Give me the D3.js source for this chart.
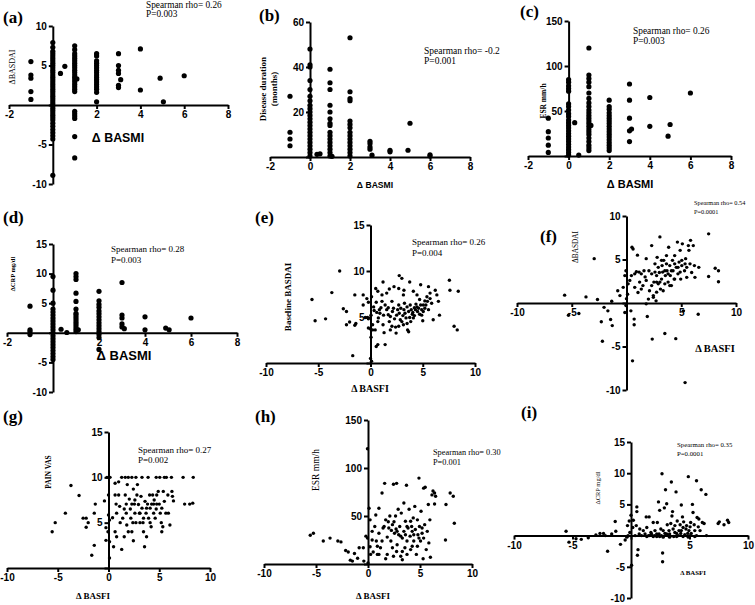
<!DOCTYPE html>
<html><head><meta charset="utf-8">
<script src="https://cdn.jsdelivr.net/npm/d3@7"></script>
<style>body{margin:0;background:#fff} svg{display:block}</style>
</head><body><svg id="c" width="755" height="605"></svg>
<script>
// ---------------- DATA ----------------
const basmiTicks = [-2, 0, 2, 4, 6, 8];
const basfiTicks = [-10, -5, 0, 5, 10];
const deltaBasdaiTicks = [-10, -5, 0, 5, 10];
const durationTicks = [0, 20, 40, 60];
const esrTicks = [0, 50, 100, 150];
const deltaCrpTicks = [-10, -5, 0, 5, 10, 15];
const scoreTicks = [0, 5, 10, 15];

// (a) ΔBASMI vs ΔBASDAI : [ΔBASMI, [ΔBASDAI values]]
const colsA = [
  [-1, [5.5, 3.8, 3.4, 1.7, 0.7]],
  [0, [7.9, 7.3, 6.8, 6.5, 6.2, 5.9, 5.6, 5.3, 5.0, 4.7, 4.4, 4.1, 3.8, 3.5, 3.2, 2.9, 2.6, 2.3, 2.0, 1.7, 1.4, 1.1, 0.8, 0.5, 0.2, -0.1, -0.4, -0.7, -1.0, -1.3, -1.6, -1.9, -2.3, -2.7, -3.1, -3.5, -3.9, -4.3, -8.9]],
  [0.35, [4.0]], [0.55, [4.9]],
  [1, [7.5, 7.0, 6.5, 6.2, 5.9, 5.6, 5.3, 5.0, 4.7, 4.4, 4.1, 3.8, 3.5, 3.2, 2.9, 2.6, 2.3, 2.0, 1.7, -0.8, -1.1, -1.4, -1.7, -4.0, -6.7]],
  [1.1, [3.3]],
  [2, [6.5, 6.2, 5.6, 5.3, 5.0, 4.7, 4.4, 4.1, 3.8, 3.5, 3.2, 2.9, 2.6, 2.3, 2.0, 1.6, 0.4]],
  [3, [6.5, 5.0, 4.4, 4.0, 2.5, 2.2]], [3.1, [3.2]],
  [4, [7.1, 1.9]], [4.9, [3.4]], [5.05, [0.4]], [6, [3.7]]
];
// (b) ΔBASMI vs disease duration (months)
const colsB = [
  [-1, [27, 11, 8, 5]],
  [0, [48, 41, 40, 34, 30, 27, 25, 23, 21.5, 20, 18.5, 17, 15.5, 14, 12.5, 11, 9.5, 8, 6.5, 5, 3.5, 2, 0.5]],
  [0.35, [1.2]], [0.5, [1.4]],
  [1, [39, 33, 30, 23, 20, 17, 15, 14, 11, 9.5, 8, 6.5, 5, 3.5, 2, 0.5]], [1.1, [0.3]],
  [2, [53, 29, 26, 25, 16, 14.5, 13, 11, 9.5, 8, 6.5, 5, 3.5, 2, 0.5]],
  [3, [7, 6, 4.5, 3.5]], [3.1, [0.8]],
  [4, [3, 2.3]], [4.9, [3]], [5, [15]], [6, [1, 0.4]]
];
// (c) ΔBASMI vs ESR mm/h
const colsC = [
  [-1, [42, 27, 20, 12, 4]],
  [0, [85, 82, 78, 75, 72, 58, 55, 51, 47, 44, 40, 37, 34, 31, 28, 25, 22, 19, 16, 13, 10, 7, 4, 1]],
  [0.3, [37]], [0.5, [1]],
  [1, [120, 90, 86, 82, 77, 70, 64, 59, 55, 51, 48, 45, 42, 39, 36, 33, 30, 27, 24, 20, 16, 12, 9, 6]], [1.1, [34]],
  [2, [62, 55, 52, 48, 45, 42, 39, 36, 33, 30, 27, 24, 21, 18, 15, 12, 9, 6]],
  [3, [80, 62, 42, 28, 16]], [3.1, [30]],
  [4, [65, 33]], [4.9, [22]], [5, [35]], [6, [70]]
];
// (d) ΔBASMI vs ΔCRP mg/dl
const colsD = [
  [-1, [4.5, 0.5, 0.2, -0.3]],
  [0, [9.5, 7.2, 5.0, 4.0, 3.5, 3.0, 2.5, 2.0, 1.5, 1.0, 0.5, 0, -0.5, -1.0, -1.5, -2.0, -2.5, -3.0, -3.5, -4.0, -4.5]],
  [0.35, [0.6]], [0.6, [0.05]],
  [1, [10, 9.5, 9.0, 6.7, 5.3, 4.0, 3.3, 3.0, 2.6, 2.2, 1.8, 1.4, 1.0, 0.6, 0.2]], [1.1, [0.5]],
  [2, [7.0, 5.4, 4.8, 4.3, 3.7, 3.2, 2.7, 2.2, 1.7, 1.2, 0.7, 0.2, -0.3, -0.8, -2.8]],
  [3, [8.5, 3.0, 2.5, 1.5, 1.0]], [3.1, [0.7]],
  [4, [2.7, 0.5]], [4.9, [0.8]], [5.05, [0.5]], [6, [2.5]]
];
// (e) ΔBASFI vs baseline BASDAI
const ptsE = [[-2.95,10],[-3.7,7.65],[-5.6,6.9],[-5.3,4.6],[-4.3,4.8],[-2.6,5.9],[-2.3,5.6],[-2.0,4.45],[-2.3,4.15],[-1.5,7.4],[-1.4,4.3],[-1.5,4.1],[-1.7,0.8],[-0.7,7.4],[-0.35,7.0],[-0.2,6.6],[-0.7,6.3],[-0.3,4.95],[-0.2,3.8],[0,3.7],[0.2,3.6],[0.05,2.8],[0,0.5],[0.1,0.2],[0.05,5.2],[0.1,7.2],[0.3,6.1],[0.35,5.7],[0.5,8.1],[0.55,6.6],[0.6,5.5],[0.7,4.5],[0.55,1.8],[0.7,2.0],[0.45,3.6],[1.2,8.8],[1.1,7.4],[1.0,6.0],[1.25,5.2],[1.2,4.15],[1.3,3.3],[1.4,2.0],[1.55,7.6],[1.7,6.0],[1.8,4.5],[1.9,3.6],[2.05,6.7],[2.1,5.6],[2.25,8.3],[2.3,4.8],[2.4,3.9],[2.45,3.25],[2.6,5.8],[2.7,6.3],[2.75,5.4],[2.85,4.7],[2.75,9.5],[3.0,9.2],[3.15,7.4],[3.25,6.5],[3.3,5.4],[3.4,4.9],[3.5,4.3],[3.55,3.6],[3.65,3.4],[3.75,8.8],[3.8,6.3],[3.9,5.8],[4.0,5.3],[4.1,4.9],[4.2,6.0],[4.35,6.4],[4.45,7.4],[4.5,5.6],[4.7,6.9],[4.8,8.5],[4.9,5.2],[5.0,4.6],[5.05,6.3],[5.2,6.75],[5.4,7.2],[5.55,8.3],[5.7,7.6],[5.85,6.5],[6.0,4.7],[6.2,7.9],[6.35,7.4],[6.5,6.7],[6.6,5.2],[7.55,9.0],[7.6,7.9],[8.0,4.0],[8.3,3.6],[8.4,7.8],[0.9,5.4],[1.1,6.7],[1.4,6.3],[1.55,5.8],[1.9,5.05],[2.2,5.95],[2.5,5.2],[2.9,5.95],[3.1,5.15],[3.2,5.8],[3.5,6.1],[3.65,5.6],[3.75,4.95],[3.85,4.5],[4.05,5.5],[4.2,5.15],[4.3,5.8],[4.45,6.1],[4.6,5.95],[4.7,5.3],[4.8,6.3],[4.9,5.8],[5.05,5.6],[5.2,5.95],[5.3,6.3],[5.45,6.7],[5.55,5.8],[5.7,7.0],[3.0,4.5],[3.15,4.15],[2.7,4.0],[2.05,4.0],[1.7,5.25],[0.75,4.9],[0.85,5.8],[0.2,4.15],[2.7,8.1],[3.2,7.9],[4.1,7.8],[1.8,8.05],[0.7,7.8],[-0.2,4.8],[-0.5,4.95]];
// (f) ΔBASFI vs ΔBASDAI
const ptsF = [[-5.65,0.9],[-5.3,-1.4],[-4.35,-1.2],[-3.7,0.7],[-2.95,5.1],[-2.65,0.4],[-2.3,-2.15],[-2.2,-4.4],[-2.05,-0.5],[-1.7,-0.9],[-1.45,-1.9],[-1.3,-2.6],[-1.35,0.2],[-0.8,1.4],[-0.6,0.85],[-0.3,1.8],[-0.15,-1.1],[-0.05,-0.3],[0,0.5],[0.1,1.0],[-0.15,3.15],[-0.05,3.7],[0.15,2.2],[0.3,2.6],[0.45,3.15],[0.5,6.4],[0.6,6.2],[0.4,-0.9],[0.55,-6.65],[0.7,-1.85],[0.7,-2.5],[0.75,1.8],[0.9,3.6],[1.0,5.5],[1.05,1.2],[1.2,2.4],[1.35,3.35],[1.5,2.0],[1.7,3.0],[1.8,5.1],[1.9,-1.55],[2.0,0.45],[2.05,3.7],[2.1,1.4],[2.3,6.6],[2.35,-4.15],[2.45,0.65],[2.5,2.4],[2.6,4.5],[2.7,0.25],[2.75,3.15],[2.8,5.25],[2.9,2.2],[3.0,3.5],[3.05,7.6],[3.1,1.6],[3.2,2.75],[3.25,4.3],[3.35,1.4],[3.4,4.9],[3.5,-3.5],[3.55,3.15],[3.65,5.45],[3.7,3.7],[3.8,2.4],[3.85,6.4],[3.95,4.3],[4.0,3.15],[4.1,2.0],[4.2,4.9],[4.25,3.7],[4.35,2.75],[4.4,5.45],[4.5,-4.1],[4.55,4.1],[4.65,7.0],[4.7,3.35],[4.8,4.7],[4.9,6.05],[4.95,2.75],[5.05,4.3],[5.1,6.8],[5.2,-0.9],[5.3,3.7],[5.35,-9.15],[5.4,5.1],[5.5,2.95],[5.65,6.6],[5.7,6.05],[5.8,4.5],[5.85,7.2],[5.95,3.5],[6.1,6.6],[6.2,4.3],[6.25,2.95],[6.55,-1.3],[6.6,4.1],[7.5,7.95],[7.5,3.05],[8.1,4.0],[8.4,3.7],[8.4,2.45],[2.6,3.55],[2.9,4.1],[3.3,3.55],[3.5,3.7],[3.8,3.35],[4.1,3.7],[4.4,4.5],[4.7,4.1],[5.05,4.9],[5.35,4.5],[5.5,4.1],[4.9,3.55],[3.65,4.5],[3.2,4.9],[2.75,2.4],[2.3,2.0],[1.8,2.6],[1.35,1.6],[1.6,3.7],[1.15,3.55],[0.75,3.35],[2.3,3.35],[4.4,2.75],[3.95,2.0],[3.5,2.2],[3.05,2.4],[2.75,1.25],[2.45,0.85],[1.8,-0.1]];
// (g) ΔBASFI vs pain VAS
const ptsG = [[-0.15,10],[0.15,10],[1.3,10],[1.65,10],[1.95,10],[2.3,10],[2.7,10],[3.3,10],[3.9,10],[4.7,10],[5.05,10],[5.5,10],[5.7,10],[6.2,10],[7.35,10],[8.35,10],[-3.7,9.1],[-2.9,8.0],[-4.25,6.05],[-5.25,5.0],[-5.55,4.0],[-2.5,5.5],[-2.2,5.5],[-2.2,4.5],[-2.0,5.0],[-1.65,1.4],[-1.3,7.05],[-1.4,6.05],[-1.4,2.5],[-0.4,7.4],[-0.25,4.45],[-0.25,3.05],[-0.05,4.0],[0,8.05],[0,5.85],[0.1,5.3],[0.1,2.9],[0.1,1.1],[0.4,5.55],[0.5,2.35],[0.65,9.35],[0.65,8.05],[0.75,7.05],[0.8,6.05],[0.65,4.0],[0.8,3.45],[1.0,9.5],[1.1,6.8],[1.15,5.0],[1.3,2.05],[1.55,3.45],[1.65,8.05],[1.75,7.05],[1.75,6.05],[1.85,9.2],[1.95,4.0],[2.05,7.6],[2.15,6.5],[2.2,5.5],[2.3,4.0],[2.45,8.7],[2.45,3.0],[2.55,7.05],[2.6,6.05],[2.7,5.0],[2.8,8.05],[2.85,9.2],[2.95,7.0],[3.05,6.05],[3.1,5.0],[3.2,7.9],[3.3,6.6],[3.4,5.0],[3.45,4.0],[3.55,2.35],[3.6,7.35],[3.7,6.05],[3.75,3.45],[3.85,7.05],[3.95,5.5],[4.05,8.05],[4.1,6.6],[4.2,4.55],[4.25,7.05],[4.35,8.05],[4.45,6.05],[4.5,7.5],[4.6,5.5],[4.7,6.5],[4.75,8.05],[4.9,8.45],[5.0,7.05],[5.1,6.05],[5.2,5.0],[5.25,4.0],[5.35,4.55],[5.4,8.45],[5.5,7.35],[5.65,6.05],[5.85,8.05],[5.9,6.05],[6.05,4.75],[6.25,8.45],[6.3,7.9],[6.4,7.4],[7.5,7.05],[8.0,7.05],[8.3,7.15],[2.3,7.05],[2.6,7.5],[3.1,6.05],[3.45,5.5],[3.75,6.6],[4.1,5.0],[4.75,7.05],[4.45,7.05],[5.25,6.6],[1.4,5.5],[1.8,4.75],[1.55,6.5],[1.0,8.05],[2.4,5.0]];
// (h) ΔBASFI vs ESR mm/h
const ptsH = [[-0.05,120],[-5.55,30],[-5.25,32],[-4.3,24],[-3.65,27],[-2.9,24],[-2.6,23],[-2.15,14],[-1.9,12.5],[-1.7,4],[-1.5,3],[-1.3,11],[-1.0,6],[-0.85,17],[-0.45,17],[-0.2,29],[-0.4,3],[-0.05,27],[0,1],[0.1,58],[0.2,46],[0.2,18],[0.25,10],[0.4,34],[0.5,12.5],[0.65,39],[0.75,51],[0.8,24],[0.9,10],[1.05,58],[1.05,32],[1.05,10],[1.2,17],[1.35,74],[1.45,37.5],[1.6,84],[1.7,46],[1.7,5.5],[1.85,28],[1.95,44],[2.1,50],[2.2,24],[2.25,35],[2.45,83],[2.45,8],[2.5,44],[2.55,32],[2.65,50],[2.7,36.5],[2.75,84],[2.8,20],[2.9,57],[2.95,30.5],[3.05,39],[3.15,8],[3.2,53],[3.3,27],[3.3,4.5],[3.45,63.5],[3.45,34],[3.55,17],[3.6,44.5],[3.7,82],[3.75,24],[3.85,37.5],[3.95,57],[4.05,29],[4.1,15],[4.2,39],[4.25,34],[4.35,48],[4.4,24],[4.5,60],[4.55,36],[4.65,10],[4.75,46],[4.8,30.5],[4.9,89.5],[4.95,39],[5.05,24],[5.1,55],[5.2,32],[5.3,5.5],[5.35,79],[5.45,41],[5.5,80],[5.6,15],[5.7,34],[5.8,62],[5.85,22],[5.95,46],[6.0,7],[6.15,72],[6.25,76],[6.4,62.5],[6.5,70.5],[6.4,74],[7.45,25],[7.5,62],[7.9,74],[8.2,70.5],[8.3,42.5],[1.55,39],[2.0,37.5],[2.35,41],[2.8,34],[3.15,29],[3.6,30.5],[3.75,39],[4.1,44.5],[4.4,30.5],[4.9,27],[5.2,37.5],[5.35,27],[4.75,18.5],[4.25,18.5],[3.75,10],[3.3,13],[2.75,13],[2.35,17],[1.85,10],[1.35,24],[0.9,18.5],[0.4,25]];
// (i) ΔBASFI vs ΔCRP mg/dl
const ptsI = [[-5.55,0.7],[-5.3,-1.05],[-4.7,-0.5],[-4.25,-0.6],[-3.65,-0.35],[-3.0,0.1],[-2.65,0.35],[-2.35,0.35],[-2.2,0],[-2.0,-2.5],[-1.65,0.25],[-1.35,2.25],[-1.3,0.7],[-0.9,-1.4],[-0.5,-0.7],[-0.35,-0.25],[-0.3,1.6],[-0.25,0],[-0.15,2.35],[-0.1,0.5],[0,3.25],[0.05,-4.75],[0.15,1.3],[0.2,2.45],[0.35,0],[0.45,1.6],[0.5,4.6],[0.5,3.85],[0.55,-3.15],[0.6,-2.25],[0.7,0.25],[0.75,1.05],[0.9,0],[1.05,0.8],[1.2,0.25],[1.3,3.0],[1.35,1.3],[1.5,0],[1.55,3.0],[1.7,0.5],[1.75,0.25],[1.9,2.1],[2.0,0],[2.05,0.8],[2.2,0.25],[2.25,2.1],[2.35,5.4],[2.4,0.25],[2.45,4.05],[2.55,1.05],[2.6,0],[2.65,9.9],[2.7,-2.8],[2.7,-4.2],[2.75,0.8],[2.85,4.45],[2.9,0.35],[2.95,7.35],[3.05,5.1],[3.1,1.75],[3.2,0],[3.25,0.8],[3.3,0.25],[3.4,1.95],[3.45,8.6],[3.5,3.15],[3.55,3.85],[3.6,1.05],[3.65,-0.15],[3.75,1.6],[3.85,7.0],[3.9,0.35],[3.95,2.35],[4.05,0],[4.1,0.8],[4.2,1.75],[4.25,0.35],[4.3,4.9],[4.4,3.0],[4.45,1.3],[4.5,2.2],[4.6,0.15],[4.7,1.05],[4.75,1.6],[4.85,0.35],[4.9,9.45],[4.95,0.8],[5.05,1.4],[5.1,2.1],[5.15,0.35],[5.25,5.0],[5.3,3.7],[5.4,1.75],[5.45,0.8],[5.6,8.8],[5.65,2.9],[5.75,1.4],[5.8,2.65],[5.9,0.8],[6.0,7.35],[6.1,2.1],[6.25,1.95],[6.4,6.6],[6.45,0],[7.45,1.95],[7.55,2.2],[7.95,1.75],[8.25,2.45],[8.35,2.1],[1.6,0],[2.2,-0.15],[2.75,-0.25],[3.3,-0.25],[3.9,-0.15],[4.45,-0.15],[5.05,0],[5.6,0],[3.05,0.25],[3.75,0.5],[4.3,0.8],[4.9,-0.25],[5.45,-0.15],[2.45,-0.15],[1.9,-0.15],[1.35,-0.15]];

// ---------------- LAYOUT ----------------
const SANS = "'Liberation Sans', Arial, Helvetica, sans-serif";
const SERIF = "'Liberation Serif', 'Times New Roman', Times, serif";
const flat = cols => cols.flatMap(([x, ys]) => ys.map(y => [x, y]));

const panels = [
  {tag:'(a)', tagPos:[3,23], pts:flat(colsA), xd:[-2,8], yd:[-10,10], xt:basmiTicks, yt:deltaBasdaiTicks,
   xr:[9,228], yr:[184,26], r:2.6,
   stat:['Spearman rho= 0.26','P=0.003'], statPos:[146,7.5,9.5], statSize:9.3,
   xTitle:'Δ BASMI', xTitleFont:SANS, xTitleSize:12.4, xTitlePos:[118,142],
   yTitle:['ΔBASDAI'], yTitleX:[12], yTitleY:67, yTitleSize:8, yTitleWeight:'normal'},
  {tag:'(b)', tagPos:[259,21], pts:flat(colsB), xd:[-2,8], yd:[0,60], xt:basmiTicks, yt:durationTicks,
   xr:[270,470], yr:[157,22], r:2.6,
   stat:['Spearman rho= -0.2','P=0.001'], statPos:[424,54,10], statSize:9.5,
   xTitle:'Δ BASMI', xTitleFont:SANS, xTitleSize:8.6, xTitlePos:[375,188],
   yTitle:['Disease duration','(months)'], yTitleX:[263,274], yTitleY:89, yTitleSize:9, yTitleWeight:'bold'},
  {tag:'(c)', tagPos:[520,17], pts:flat(colsC), xd:[-2,8], yd:[0,150], xt:basmiTicks, yt:esrTicks,
   xr:[528,731], yr:[156,21], r:2.6,
   stat:['Spearman rho= 0.26','P=0.003'], statPos:[633,34,10], statSize:9.4,
   xTitle:'Δ BASMI', xTitleFont:SANS, xTitleSize:11, xTitlePos:[630,188],
   yTitle:['ESR mm/h'], yTitleX:[543], yTitleY:101, yTitleSize:7.5, yTitleWeight:'bold'},
  {tag:'(d)', tagPos:[3,223], pts:flat(colsD), xd:[-2,8], yd:[-10,15], xt:basmiTicks, yt:deltaCrpTicks,
   xr:[7,237], yr:[392,244], r:2.6,
   stat:['Spearman rho= 0.28','P=0.003'], statPos:[111,252,11], statSize:9,
   xTitle:'Δ BASMI', xTitleFont:SANS, xTitleSize:13, xTitlePos:[124,360],
   yTitle:['ΔCRP mg/dl'], yTitleX:[12], yTitleY:274, yTitleSize:6.5, yTitleWeight:'bold'},
  {tag:'(e)', tagPos:[255,223], pts:ptsE, xd:[-10,10], yd:[0,15], xt:basfiTicks, yt:scoreTicks,
   xr:[266,475], yr:[363,225], r:1.7,
   stat:['Spearman rho= 0.26','P=0.004'], statPos:[412,245,11], statSize:9,
   xTitle:'Δ BASFI', xTitleFont:SERIF, xTitleSize:10, xTitlePos:[370,392],
   yTitle:['Baseline BASDAI'], yTitleX:[288], yTitleY:297, yTitleSize:9, yTitleWeight:'bold'},
  {tag:'(f)', tagPos:[540,242], pts:ptsF, xd:[-10,10], yd:[-10,10], xt:basfiTicks, yt:deltaBasdaiTicks,
   xr:[517,736], yr:[390,216], r:1.7,
   stat:['Spearman rho= 0.54','P=0.0001'], statPos:[694,205,8.5], statSize:6.3,
   xTitle:'Δ BASFI', xTitleFont:SERIF, xTitleSize:10.5, xTitlePos:[715,352],
   yTitle:['ΔBASDAI'], yTitleX:[575], yTitleY:247, yTitleSize:7.3, yTitleWeight:'normal'},
  {tag:'(g)', tagPos:[3,422], pts:ptsG, xd:[-10,10], yd:[0,15], xt:basfiTicks, yt:scoreTicks,
   xr:[7,210], yr:[568,432], r:1.7,
   stat:['Spearman rho= 0.27','P=0.002'], statPos:[138,453,10], statSize:9,
   xTitle:'Δ BASFI', xTitleFont:SERIF, xTitleSize:9, xTitlePos:[93,599],
   yTitle:['PAIN VAS'], yTitleX:[48], yTitleY:472, yTitleSize:7.5, yTitleWeight:'bold'},
  {tag:'(h)', tagPos:[255,422], pts:ptsH, xd:[-10,10], yd:[0,150], xt:basfiTicks, yt:esrTicks,
   xr:[264,472], yr:[564,420], r:1.7,
   stat:['Spearman rho= 0.30','P=0.001'], statPos:[433,455,10], statSize:8.3,
   xTitle:'Δ BASFI', xTitleFont:SERIF, xTitleSize:9, xTitlePos:[373,599],
   yTitle:['ESR mm/h'], yTitleX:[316], yTitleY:470, yTitleSize:9.5, yTitleWeight:'normal'},
  {tag:'(i)', tagPos:[521,418], pts:ptsI, xd:[-10,10], yd:[-10,15], xt:basfiTicks, yt:deltaCrpTicks,
   xr:[514,748], yr:[598,442], r:1.7,
   stat:['Spearman rho= 0.35','P=0.0001'], statPos:[677,447,9], statSize:6.8,
   xTitle:'Δ BASFI', xTitleFont:SERIF, xTitleSize:6.8, xTitlePos:[693,575],
   yTitle:['ΔCRP mg/dl'], yTitleX:[597], yTitleY:488, yTitleSize:6.5, yTitleWeight:'normal'}
];

// ---------------- DRAW ----------------
const svg = d3.select('#c');
svg.append('rect').attr('width',755).attr('height',605).attr('fill','#fff');

panels.forEach(p => {
  const g = svg.append('g');
  const x = d3.scaleLinear().domain(p.xd).range(p.xr);
  const y = d3.scaleLinear().domain(p.yd).range(p.yr);
  const x0 = x(0), y0 = y(0);
  const xAtBottom = p.yd[0] === 0;

  const xAxis = d3.axisBottom(x).tickValues(p.xt).tickSize(4).tickSizeOuter(0).tickPadding(2)
    .tickFormat(d => (d === 0 && !xAtBottom) ? '' : String(d));
  const yAxis = d3.axisLeft(y).tickValues(p.yt).tickSize(4).tickSizeOuter(0).tickPadding(2)
    .tickFormat(d => d === 0 ? '' : String(d));

  const gx = g.append('g').attr('transform', `translate(0,${y0})`).call(xAxis);
  const gy = g.append('g').attr('transform', `translate(${x0},0)`).call(yAxis);
  [gx, gy].forEach(a => {
    a.selectAll('path.domain').attr('stroke','#000').attr('stroke-width',2);
    a.selectAll('.tick line').attr('stroke','#000').attr('stroke-width',2);
    a.selectAll('.tick text').attr('fill','#000').style('font-family',SANS)
      .style('font-weight','bold').style('font-size','10px');
  });

  g.append('g').selectAll('circle').data(p.pts).join('circle')
    .attr('cx', d => x(d[0])).attr('cy', d => y(d[1])).attr('r', p.r).attr('fill','#000');

  g.append('text').attr('x',p.tagPos[0]).attr('y',p.tagPos[1]).text(p.tag)
    .style('font-family',SERIF).style('font-weight','bold').style('font-size','17px');

  p.stat.forEach((s,i) => g.append('text').attr('x',p.statPos[0]).attr('y',p.statPos[1]+i*p.statPos[2])
    .text(s).style('font-family',SERIF).style('font-size',p.statSize+'px'));

  g.append('text').attr('x',p.xTitlePos[0]).attr('y',p.xTitlePos[1]).attr('text-anchor','middle')
    .text(p.xTitle).style('font-family',p.xTitleFont).style('font-weight','bold')
    .style('font-size',p.xTitleSize+'px');

  p.yTitle.forEach((s,i) => g.append('text')
    .attr('transform',`translate(${p.yTitleX[i]},${p.yTitleY}) rotate(-90)`)
    .attr('text-anchor','middle').attr('dominant-baseline','central')
    .text(s).style('font-family',SERIF).style('font-weight',p.yTitleWeight)
    .style('font-size',p.yTitleSize+'px'));
});
</script>
</body></html>
